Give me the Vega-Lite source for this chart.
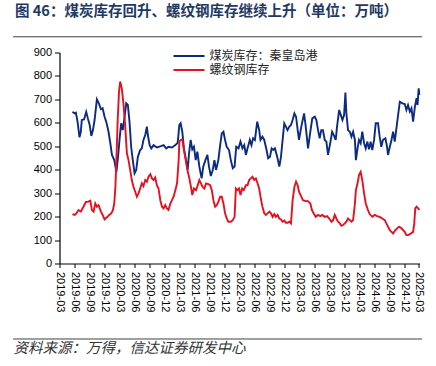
{
  "$schema": "https://vega.github.io/schema/vega-lite/v6.json",
  "width": 360,
  "height": 211,
  "autosize": {"type": "none"},
  "padding": {"left": 59.5, "top": 52.5, "right": 16.5, "bottom": 102.5},
  "background": "white",
  "title": {
    "text": "图 46：煤炭库存回升、螺纹钢库存继续上升（单位：万吨）",
    "anchor": "start",
    "frame": "group",
    "dx": -44.5,
    "offset": 16.5,
    "font": "Noto Sans CJK SC",
    "fontSize": 14.5,
    "fontWeight": "bold",
    "color": "#1F3864"
  },
  "config": {"view": {"stroke": null}, "axis": {"grid": false, "labelOverlap": false}},
  "datasets": {
    "coal": [
      {"d":"2019-05-19","v":647},{"d":"2019-06-01","v":640},{"d":"2019-06-09","v":643},{"d":"2019-06-19","v":605},{"d":"2019-07-01","v":538},{"d":"2019-07-09","v":562},{"d":"2019-07-15","v":612},{"d":"2019-07-29","v":615},{"d":"2019-08-11","v":647},{"d":"2019-08-21","v":619},{"d":"2019-09-01","v":591},{"d":"2019-09-11","v":544},{"d":"2019-09-21","v":569},{"d":"2019-10-01","v":612},{"d":"2019-10-15","v":700},{"d":"2019-10-27","v":683},{"d":"2019-11-09","v":658},{"d":"2019-11-19","v":662},{"d":"2019-12-01","v":626},{"d":"2019-12-11","v":605},{"d":"2019-12-25","v":562},{"d":"2020-01-05","v":513},{"d":"2020-01-15","v":463},{"d":"2020-01-29","v":441},{"d":"2020-02-11","v":391},{"d":"2020-02-21","v":455},{"d":"2020-03-01","v":527},{"d":"2020-03-11","v":598},{"d":"2020-03-21","v":569},{"d":"2020-04-01","v":626},{"d":"2020-04-11","v":683},{"d":"2020-04-21","v":676},{"d":"2020-05-01","v":605},{"d":"2020-05-11","v":498},{"d":"2020-05-21","v":441},{"d":"2020-06-01","v":385},{"d":"2020-06-11","v":399},{"d":"2020-06-21","v":455},{"d":"2020-07-05","v":484},{"d":"2020-07-15","v":491},{"d":"2020-07-25","v":527},{"d":"2020-08-05","v":548},{"d":"2020-08-15","v":584},{"d":"2020-08-21","v":548},{"d":"2020-09-01","v":505},{"d":"2020-09-11","v":491},{"d":"2020-09-25","v":505},{"d":"2020-10-15","v":495},{"d":"2020-11-05","v":500},{"d":"2020-11-25","v":505},{"d":"2020-12-11","v":491},{"d":"2020-12-25","v":498},{"d":"2021-01-15","v":495},{"d":"2021-02-05","v":505},{"d":"2021-02-19","v":515},{"d":"2021-03-01","v":591},{"d":"2021-03-09","v":598},{"d":"2021-03-19","v":562},{"d":"2021-03-29","v":491},{"d":"2021-04-11","v":441},{"d":"2021-04-21","v":399},{"d":"2021-04-29","v":470},{"d":"2021-05-09","v":527},{"d":"2021-05-19","v":487},{"d":"2021-05-29","v":498},{"d":"2021-06-09","v":441},{"d":"2021-06-19","v":477},{"d":"2021-07-01","v":413},{"d":"2021-07-15","v":363},{"d":"2021-07-25","v":413},{"d":"2021-08-07","v":441},{"d":"2021-08-19","v":463},{"d":"2021-08-29","v":413},{"d":"2021-09-09","v":373},{"d":"2021-09-21","v":399},{"d":"2021-10-01","v":441},{"d":"2021-10-11","v":399},{"d":"2021-10-25","v":441},{"d":"2021-11-05","v":505},{"d":"2021-11-15","v":555},{"d":"2021-11-25","v":562},{"d":"2021-12-05","v":527},{"d":"2021-12-15","v":498},{"d":"2021-12-29","v":484},{"d":"2022-01-09","v":441},{"d":"2022-01-21","v":406},{"d":"2022-02-01","v":413},{"d":"2022-02-11","v":498},{"d":"2022-02-25","v":491},{"d":"2022-03-09","v":520},{"d":"2022-03-21","v":491},{"d":"2022-04-01","v":505},{"d":"2022-04-11","v":463},{"d":"2022-04-21","v":491},{"d":"2022-05-05","v":527},{"d":"2022-05-15","v":505},{"d":"2022-05-25","v":534},{"d":"2022-06-05","v":527},{"d":"2022-06-19","v":605},{"d":"2022-07-01","v":569},{"d":"2022-07-09","v":527},{"d":"2022-07-21","v":541},{"d":"2022-08-01","v":527},{"d":"2022-08-15","v":484},{"d":"2022-08-25","v":449},{"d":"2022-09-05","v":455},{"d":"2022-09-15","v":491},{"d":"2022-09-25","v":484},{"d":"2022-10-05","v":491},{"d":"2022-10-19","v":455},{"d":"2022-11-01","v":413},{"d":"2022-11-11","v":455},{"d":"2022-11-21","v":527},{"d":"2022-12-01","v":598},{"d":"2022-12-11","v":584},{"d":"2022-12-21","v":569},{"d":"2023-01-01","v":584},{"d":"2023-01-11","v":591},{"d":"2023-01-21","v":612},{"d":"2023-02-01","v":640},{"d":"2023-02-11","v":626},{"d":"2023-02-21","v":569},{"d":"2023-03-01","v":527},{"d":"2023-03-15","v":584},{"d":"2023-04-01","v":640},{"d":"2023-04-11","v":584},{"d":"2023-04-25","v":491},{"d":"2023-05-09","v":562},{"d":"2023-05-21","v":619},{"d":"2023-06-05","v":626},{"d":"2023-06-15","v":612},{"d":"2023-06-25","v":569},{"d":"2023-07-05","v":534},{"d":"2023-07-15","v":569},{"d":"2023-07-25","v":569},{"d":"2023-08-05","v":527},{"d":"2023-08-15","v":520},{"d":"2023-08-25","v":463},{"d":"2023-09-09","v":520},{"d":"2023-09-19","v":562},{"d":"2023-09-29","v":548},{"d":"2023-10-11","v":527},{"d":"2023-10-19","v":584},{"d":"2023-11-01","v":655},{"d":"2023-11-11","v":633},{"d":"2023-11-21","v":612},{"d":"2023-12-01","v":633},{"d":"2023-12-09","v":729},{"d":"2023-12-15","v":640},{"d":"2023-12-25","v":569},{"d":"2024-01-05","v":562},{"d":"2024-01-15","v":541},{"d":"2024-01-25","v":562},{"d":"2024-02-05","v":527},{"d":"2024-02-11","v":441},{"d":"2024-02-21","v":491},{"d":"2024-03-01","v":527},{"d":"2024-03-11","v":513},{"d":"2024-03-21","v":562},{"d":"2024-04-01","v":513},{"d":"2024-04-11","v":491},{"d":"2024-04-21","v":520},{"d":"2024-05-01","v":487},{"d":"2024-05-11","v":520},{"d":"2024-05-21","v":484},{"d":"2024-06-01","v":527},{"d":"2024-06-11","v":598},{"d":"2024-06-25","v":598},{"d":"2024-07-05","v":541},{"d":"2024-07-15","v":498},{"d":"2024-07-25","v":527},{"d":"2024-08-09","v":534},{"d":"2024-08-19","v":498},{"d":"2024-08-25","v":463},{"d":"2024-09-05","v":498},{"d":"2024-09-15","v":527},{"d":"2024-09-25","v":562},{"d":"2024-10-05","v":520},{"d":"2024-10-19","v":598},{"d":"2024-11-05","v":690},{"d":"2024-11-21","v":683},{"d":"2024-12-05","v":680},{"d":"2024-12-15","v":655},{"d":"2024-12-25","v":676},{"d":"2025-01-05","v":648},{"d":"2025-01-15","v":662},{"d":"2025-01-25","v":605},{"d":"2025-02-05","v":669},{"d":"2025-02-15","v":705},{"d":"2025-02-21","v":676},{"d":"2025-02-28","v":747},{"d":"2025-03-04","v":719}
    ],
    "rebar": [
      {"d":"2019-05-19","v":211},{"d":"2019-06-01","v":207},{"d":"2019-06-11","v":213},{"d":"2019-06-25","v":228},{"d":"2019-07-09","v":221},{"d":"2019-07-25","v":242},{"d":"2019-08-09","v":263},{"d":"2019-08-21","v":263},{"d":"2019-09-05","v":268},{"d":"2019-09-15","v":228},{"d":"2019-09-25","v":221},{"d":"2019-10-05","v":256},{"d":"2019-10-15","v":242},{"d":"2019-10-25","v":249},{"d":"2019-11-09","v":221},{"d":"2019-11-19","v":207},{"d":"2019-12-01","v":188},{"d":"2019-12-15","v":197},{"d":"2019-12-29","v":207},{"d":"2020-01-11","v":214},{"d":"2020-01-21","v":228},{"d":"2020-01-29","v":256},{"d":"2020-02-05","v":327},{"d":"2020-02-11","v":441},{"d":"2020-02-19","v":612},{"d":"2020-02-27","v":733},{"d":"2020-03-05","v":776},{"d":"2020-03-15","v":747},{"d":"2020-03-25","v":683},{"d":"2020-04-05","v":584},{"d":"2020-04-15","v":470},{"d":"2020-04-25","v":441},{"d":"2020-05-05","v":399},{"d":"2020-05-15","v":356},{"d":"2020-05-25","v":327},{"d":"2020-06-05","v":306},{"d":"2020-06-15","v":285},{"d":"2020-06-25","v":299},{"d":"2020-07-05","v":320},{"d":"2020-07-15","v":342},{"d":"2020-07-25","v":330},{"d":"2020-08-05","v":356},{"d":"2020-08-15","v":349},{"d":"2020-08-25","v":370},{"d":"2020-09-05","v":381},{"d":"2020-09-15","v":363},{"d":"2020-09-25","v":356},{"d":"2020-10-05","v":367},{"d":"2020-10-15","v":334},{"d":"2020-10-25","v":320},{"d":"2020-11-05","v":270},{"d":"2020-11-15","v":242},{"d":"2020-11-25","v":235},{"d":"2020-12-05","v":249},{"d":"2020-12-15","v":235},{"d":"2020-12-25","v":228},{"d":"2021-01-05","v":256},{"d":"2021-01-15","v":270},{"d":"2021-01-25","v":285},{"d":"2021-02-05","v":313},{"d":"2021-02-15","v":342},{"d":"2021-02-25","v":441},{"d":"2021-03-01","v":520},{"d":"2021-03-09","v":527},{"d":"2021-03-19","v":530},{"d":"2021-03-29","v":484},{"d":"2021-04-09","v":441},{"d":"2021-04-19","v":399},{"d":"2021-04-29","v":370},{"d":"2021-05-09","v":334},{"d":"2021-05-19","v":292},{"d":"2021-05-29","v":320},{"d":"2021-06-11","v":313},{"d":"2021-06-21","v":334},{"d":"2021-07-01","v":356},{"d":"2021-07-11","v":342},{"d":"2021-07-21","v":327},{"d":"2021-08-01","v":320},{"d":"2021-08-11","v":342},{"d":"2021-08-25","v":339},{"d":"2021-09-05","v":334},{"d":"2021-09-15","v":313},{"d":"2021-09-25","v":270},{"d":"2021-10-05","v":242},{"d":"2021-10-15","v":249},{"d":"2021-10-25","v":263},{"d":"2021-11-05","v":285},{"d":"2021-11-15","v":285},{"d":"2021-11-25","v":256},{"d":"2021-12-05","v":214},{"d":"2021-12-15","v":192},{"d":"2021-12-25","v":178},{"d":"2022-01-09","v":178},{"d":"2022-01-21","v":185},{"d":"2022-02-01","v":199},{"d":"2022-02-09","v":320},{"d":"2022-02-19","v":313},{"d":"2022-02-28","v":320},{"d":"2022-03-09","v":292},{"d":"2022-03-19","v":320},{"d":"2022-03-29","v":313},{"d":"2022-04-11","v":334},{"d":"2022-04-21","v":334},{"d":"2022-05-01","v":356},{"d":"2022-05-11","v":363},{"d":"2022-05-21","v":370},{"d":"2022-06-01","v":356},{"d":"2022-06-11","v":363},{"d":"2022-06-21","v":342},{"d":"2022-07-01","v":320},{"d":"2022-07-11","v":277},{"d":"2022-07-21","v":242},{"d":"2022-08-01","v":214},{"d":"2022-08-11","v":207},{"d":"2022-08-21","v":214},{"d":"2022-09-01","v":221},{"d":"2022-09-11","v":214},{"d":"2022-09-21","v":199},{"d":"2022-10-01","v":211},{"d":"2022-10-11","v":199},{"d":"2022-10-21","v":207},{"d":"2022-11-01","v":192},{"d":"2022-11-11","v":188},{"d":"2022-11-21","v":178},{"d":"2022-12-01","v":183},{"d":"2022-12-11","v":174},{"d":"2022-12-21","v":174},{"d":"2023-01-01","v":178},{"d":"2023-01-11","v":171},{"d":"2023-01-21","v":270},{"d":"2023-02-01","v":327},{"d":"2023-02-11","v":349},{"d":"2023-02-21","v":334},{"d":"2023-03-01","v":306},{"d":"2023-03-15","v":285},{"d":"2023-03-25","v":270},{"d":"2023-04-11","v":266},{"d":"2023-04-25","v":266},{"d":"2023-05-09","v":256},{"d":"2023-05-19","v":228},{"d":"2023-05-29","v":214},{"d":"2023-06-11","v":199},{"d":"2023-06-25","v":207},{"d":"2023-07-09","v":202},{"d":"2023-07-21","v":207},{"d":"2023-08-05","v":199},{"d":"2023-08-19","v":202},{"d":"2023-09-01","v":192},{"d":"2023-09-15","v":178},{"d":"2023-09-25","v":185},{"d":"2023-10-05","v":207},{"d":"2023-10-15","v":192},{"d":"2023-10-25","v":178},{"d":"2023-11-05","v":171},{"d":"2023-11-15","v":161},{"d":"2023-11-25","v":164},{"d":"2023-12-05","v":171},{"d":"2023-12-15","v":178},{"d":"2023-12-25","v":192},{"d":"2024-01-05","v":185},{"d":"2024-01-15","v":178},{"d":"2024-01-25","v":185},{"d":"2024-02-05","v":256},{"d":"2024-02-11","v":313},{"d":"2024-02-21","v":342},{"d":"2024-03-01","v":377},{"d":"2024-03-11","v":391},{"d":"2024-03-21","v":356},{"d":"2024-04-01","v":299},{"d":"2024-04-11","v":256},{"d":"2024-04-25","v":228},{"d":"2024-05-05","v":211},{"d":"2024-05-21","v":199},{"d":"2024-06-05","v":207},{"d":"2024-06-19","v":202},{"d":"2024-07-05","v":199},{"d":"2024-07-21","v":192},{"d":"2024-08-05","v":185},{"d":"2024-08-15","v":171},{"d":"2024-08-25","v":157},{"d":"2024-09-05","v":142},{"d":"2024-09-15","v":135},{"d":"2024-09-25","v":128},{"d":"2024-10-05","v":139},{"d":"2024-10-19","v":150},{"d":"2024-11-01","v":157},{"d":"2024-11-15","v":150},{"d":"2024-11-25","v":142},{"d":"2024-12-05","v":135},{"d":"2024-12-15","v":121},{"d":"2024-12-25","v":121},{"d":"2025-01-05","v":125},{"d":"2025-01-15","v":130},{"d":"2025-01-25","v":135},{"d":"2025-02-01","v":171},{"d":"2025-02-07","v":235},{"d":"2025-02-15","v":242},{"d":"2025-02-25","v":235},{"d":"2025-03-04","v":228}
    ]
  },
  "layer": [
    {
      "data": {"name": "coal"},
      "mark": {"type": "line", "strokeWidth": 1.9, "interpolate": "linear"},
      "encoding": {
        "x": {
          "field": "d",
          "type": "temporal",
          "scale": {"domain": [{"year": 2019, "month": 3, "date": 1}, {"year": 2025, "month": 3, "date": 5}]},
          "axis": {
            "values": [
              {"year": 2019, "month": 3, "date": 1}, {"year": 2019, "month": 6, "date": 1}, {"year": 2019, "month": 9, "date": 1}, {"year": 2019, "month": 12, "date": 1},
              {"year": 2020, "month": 3, "date": 1}, {"year": 2020, "month": 6, "date": 1}, {"year": 2020, "month": 9, "date": 1}, {"year": 2020, "month": 12, "date": 1},
              {"year": 2021, "month": 3, "date": 1}, {"year": 2021, "month": 6, "date": 1}, {"year": 2021, "month": 9, "date": 1}, {"year": 2021, "month": 12, "date": 1},
              {"year": 2022, "month": 3, "date": 1}, {"year": 2022, "month": 6, "date": 1}, {"year": 2022, "month": 9, "date": 1}, {"year": 2022, "month": 12, "date": 1},
              {"year": 2023, "month": 3, "date": 1}, {"year": 2023, "month": 6, "date": 1}, {"year": 2023, "month": 9, "date": 1}, {"year": 2023, "month": 12, "date": 1},
              {"year": 2024, "month": 3, "date": 1}, {"year": 2024, "month": 6, "date": 1}, {"year": 2024, "month": 9, "date": 1}, {"year": 2024, "month": 12, "date": 1},
              {"year": 2025, "month": 3, "date": 1}
            ],
            "tickCount": 40,
            "format": "%Y-%m",
            "labelAngle": 90,
            "labelAlign": "left",
            "labelBaseline": "middle",
            "labelFont": "Liberation Sans",
            "labelFontSize": 11,
            "labelColor": "#000000",
            "labelPadding": 4,
            "labelOverlap": false,
            "labelFlush": false,
            "labelBound": false,
            "tickColor": "#000000",
            "tickSize": 4,
            "domainColor": "#000000",
            "domainWidth": 1.2,
            "title": "资料来源：万得，信达证券研发中心",
            "titleX": -46.5,
            "titleY": 84.5,
            "titleAlign": "left",
            "titleBaseline": "middle",
            "titleAngle": 0,
            "titleFont": "Noto Sans CJK SC",
            "titleFontSize": 14.5,
            "titleFontStyle": "italic",
            "titleFontWeight": "normal",
            "titleColor": "#333333"
          }
        },
        "y": {
          "field": "v",
          "type": "quantitative",
          "scale": {"domain": [0, 900], "nice": false},
          "axis": {
            "values": [0, 100, 200, 300, 400, 500, 600, 700, 800, 900],
            "tickCount": 20,
            "title": null,
            "labelOverlap": false,
            "labelFont": "Liberation Sans",
            "labelFontSize": 11,
            "labelColor": "#000000",
            "labelPadding": 3,
            "tickColor": "#000000",
            "tickSize": 5,
            "domainColor": "#000000",
            "domainWidth": 1.2
          }
        },
        "color": {
          "datum": "煤炭库存：秦皇岛港",
          "scale": {"domain": ["煤炭库存：秦皇岛港", "螺纹钢库存"], "range": ["#0B2A84", "#E8101E"]},
          "legend": {
            "orient": "none",
            "legendX": 122,
            "legendY": -4,
            "direction": "vertical",
            "title": null,
            "symbolType": "M-2.5,0H2.5",
            "symbolSize": 154,
            "symbolStrokeWidth": 2,
            "labelFont": "Noto Sans CJK SC",
            "labelFontSize": 12,
            "labelColor": "#222222",
            "labelOffset": 13,
            "rowPadding": 0,
            "padding": 0
          }
        }
      }
    },
    {
      "data": {"name": "rebar"},
      "mark": {"type": "line", "strokeWidth": 1.9, "interpolate": "linear"},
      "encoding": {
        "x": {"field": "d", "type": "temporal"},
        "y": {"field": "v", "type": "quantitative"},
        "color": {"datum": "螺纹钢库存"}
      }
    },
    {
      "data": {"values": [{}]},
      "mark": {"type": "rule", "clip": false, "color": "#404040", "strokeWidth": 1},
      "encoding": {
        "x": {"datum": {"year": 2018, "month": 5, "date": 22}, "type": "temporal"},
        "x2": {"datum": {"year": 2025, "month": 3, "date": 21}},
        "y": {"datum": 967, "type": "quantitative"}
      }
    },
    {
      "data": {"values": [{}]},
      "mark": {"type": "rule", "clip": false, "color": "#404040", "strokeWidth": 1},
      "encoding": {
        "x": {"datum": {"year": 2018, "month": 5, "date": 22}, "type": "temporal"},
        "x2": {"datum": {"year": 2025, "month": 3, "date": 21}},
        "y": {"datum": -322, "type": "quantitative"}
      }
    }
  ]
}
